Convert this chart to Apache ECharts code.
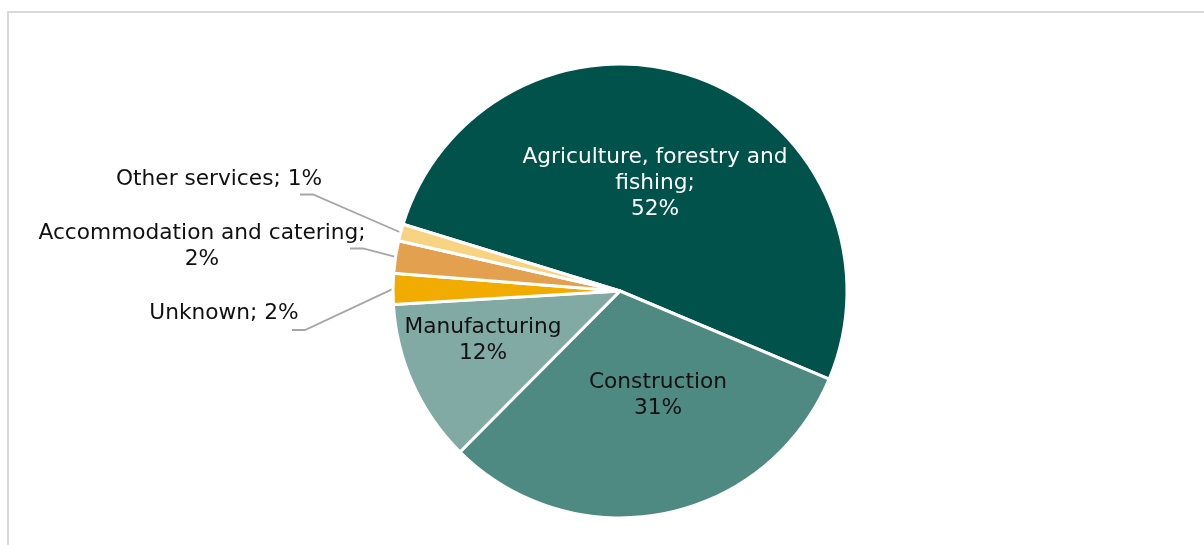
<!DOCTYPE html>
<html>
<head>
<meta charset="utf-8">
<script src="https://cdn.jsdelivr.net/npm/echarts@6/dist/echarts.min.js"></script>
<style>
html,body{margin:0;padding:0;background:#ffffff;}
#c{width:1204px;height:545px;}
</style>
</head>
<body>
<div id="c"></div>
<script>
// ---- data ----
const categories = ['Agriculture, forestry and fishing', 'Construction', 'Manufacturing', 'Unknown', 'Accommodation and catering', 'Other services'];
const values = [51.6, 31.1, 11.6, 2.2, 2.3, 1.2];
const sliceLabels = ['Agriculture, forestry and\nfishing;\n{p}%', 'Construction\n{p}%', 'Manufacturing\n{p}%', 'Unknown; {p}%', 'Accommodation and catering;\n{p}%', 'Other services; {p}%'];
const colors = ['#00524B', '#4F8A82', '#82AAA5', '#F2AB00', '#E3A04F', '#F8D382'];
const labelColors = ['#ffffff', '#111111', '#111111', '#111111', '#111111', '#111111'];
const outside = [false, false, false, true, true, true];

// ---- layout (label anchor positions) ----
const labelPos = [
  {x: 655, y: 183},
  {x: 658, y: 395},
  {x: 483, y: 340},
  {x: 224, y: 313, line: [[305, 330], [292, 330]]},
  {x: 202, y: 246.5, line: [[363, 248.5], [350, 248.5]]},
  {x: 219, y: 179.5, line: [[313, 194.5], [300, 194.5]]}
];

const chart = echarts.init(document.getElementById('c'), null, {renderer: 'canvas'});

const data = categories.map((name, i) => ({
  name: name,
  value: values[i],
  itemStyle: {color: colors[i]},
  label: {
    position: outside[i] ? 'outside' : 'inside',
    color: labelColors[i]
  },
  labelLine: {show: outside[i]}
}));

chart.setOption({
  animation: false,
  backgroundColor: '#ffffff',
  graphic: [{
    type: 'rect',
    shape: {x: 8, y: 12, width: 1400, height: 800},
    style: {fill: 'none', stroke: '#d9d9d9', lineWidth: 2},
    silent: true
  }],
  series: [{
    type: 'pie',
    center: [620, 291],
    radius: [0, 227],
    startAngle: 162.9,
    clockwise: true,
    avoidLabelOverlap: false,
    emphasis: {disabled: true},
    itemStyle: {borderColor: '#ffffff', borderWidth: 3},
    label: {
      fontFamily: 'DejaVu Sans',
      fontSize: 21.7,
      lineHeight: 26,
      formatter: function (p) {
        return sliceLabels[p.dataIndex].replace('{p}', Math.round(values[p.dataIndex]));
      }
    },
    labelLine: {
      length: 10,
      length2: 12,
      lineStyle: {color: '#a6a6a6', width: 1.8}
    },
    labelLayout: function (params) {
      const p = labelPos[params.dataIndex];
      const o = {x: p.x, y: p.y, align: 'center', verticalAlign: 'middle'};
      if (p.line && params.labelLinePoints) {
        o.labelLinePoints = [params.labelLinePoints[0], p.line[0], p.line[1]];
      }
      return o;
    },
    data: data
  }]
});
</script>
</body>
</html>
